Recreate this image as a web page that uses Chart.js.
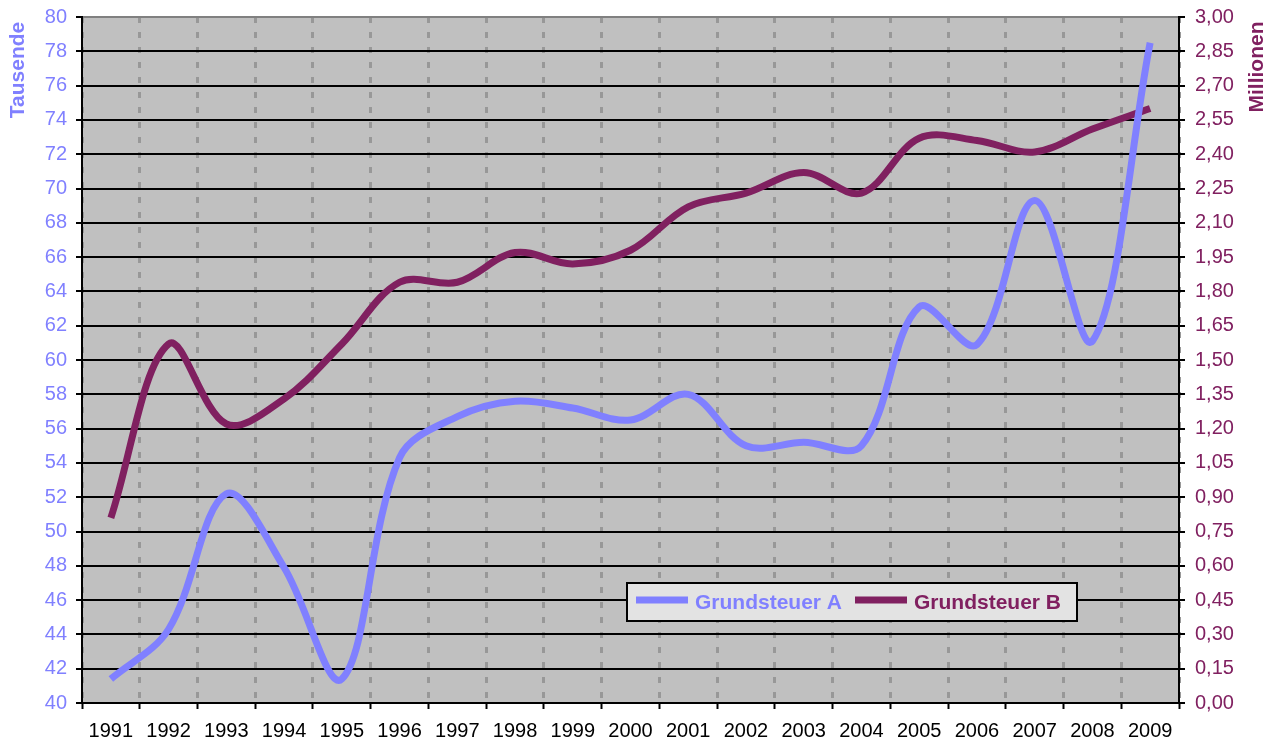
<!DOCTYPE html>
<html>
<head>
<meta charset="utf-8">
<script src="https://cdn.jsdelivr.net/npm/chart.js@4"></script>
<style>
    body { margin: 0; background: #fff; }
    #wrap { position: relative; width: 1279px; height: 747px; }
</style>
</head>
<body>
<div id="wrap"><canvas id="chart"></canvas></div>
<script>
// Data
const years = ['1991', '1992', '1993', '1994', '1995', '1996', '1997', '1998', '1999', '2000',
    '2001', '2002', '2003', '2004', '2005', '2006', '2007', '2008', '2009'];
// Grundsteuer A, in Tausend (left axis)
const grundsteuerA = [41.4, 44.3, 52.2, 47.9, 41.4, 54.3, 56.7, 57.6, 57.2, 56.5,
    58.0, 55.0, 55.2, 55.0, 63.1, 60.9, 69.3, 61.1, 78.5];
// Grundsteuer B, in Millionen (right axis)
const grundsteuerB = [0.81, 1.57, 1.22, 1.33, 1.57, 1.84, 1.84, 1.97, 1.92, 1.98,
    2.17, 2.23, 2.32, 2.23, 2.47, 2.46, 2.41, 2.51, 2.60];
const seriesNames = ['Grundsteuer A', 'Grundsteuer B'];
const leftTitle = 'Tausende';
const rightTitle = 'Millionen';

const colorA = '#8080ff';
const colorB = '#802060';
const fontFamily = '"Liberation Sans", Arial, sans-serif';

// Gray plot area
const plotBackground = {
    id: 'plotBackground',
    beforeDraw(chart) {
        const { ctx, chartArea: a } = chart;
        ctx.save();
        ctx.fillStyle = '#c0c0c0';
        ctx.fillRect(a.left, a.top, a.right - a.left, a.bottom - a.top);
        ctx.restore();
    }
};

// Axis titles sit at the top of each axis, both read bottom-to-top
const axisTitles = {
    id: 'axisTitles',
    afterDraw(chart) {
        const ctx = chart.ctx;
        ctx.save();
        ctx.font = 'bold 21px ' + fontFamily;
        ctx.textAlign = 'center';
        ctx.textBaseline = 'middle';
        [[leftTitle, 18.5, 70, colorA], [rightTitle, 1257, 67, colorB]].forEach(([text, x, y, color]) => {
            ctx.save();
            ctx.translate(x, y);
            ctx.rotate(-Math.PI / 2);
            ctx.fillStyle = color;
            ctx.fillText(text, 0, 0);
            ctx.restore();
        });
        ctx.restore();
    }
};

// Legend box inside the plot, like the Excel original
const boxLegend = {
    id: 'boxLegend',
    afterDraw(chart) {
        const ctx = chart.ctx;
        const box = { x: 627, y: 583, w: 450, h: 38 };
        ctx.save();
        ctx.fillStyle = '#e3e3e3';
        ctx.fillRect(box.x, box.y, box.w, box.h);
        ctx.strokeStyle = '#000';
        ctx.lineWidth = 2;
        ctx.strokeRect(box.x, box.y, box.w, box.h);
        ctx.font = 'bold 21px ' + fontFamily;
        ctx.textBaseline = 'middle';
        const midY = box.y + box.h / 2;
        const entries = [[636, 695], [855, 914]];
        chart.data.datasets.forEach((ds, i) => {
            const [lineX, textX] = entries[i];
            ctx.strokeStyle = ds.borderColor;
            ctx.lineWidth = 7;
            ctx.beginPath();
            ctx.moveTo(lineX, midY - 2);
            ctx.lineTo(lineX + 52, midY - 2);
            ctx.stroke();
            ctx.fillStyle = ds.borderColor;
            ctx.fillText(ds.label, textX, midY + 1);
        });
        ctx.restore();
    }
};

// fixed axis sizes so the plot area lands where Excel put it
const fixY = width => scale => {
    scale.width = width;
    scale.paddingTop = 0;
    scale.paddingBottom = 0;
};

new Chart(document.getElementById('chart'), {
    type: 'line',
    data: {
        labels: years,
        datasets: [{
            label: seriesNames[0],
            data: grundsteuerA,
            yAxisID: 'y',
            borderColor: colorA,
            borderWidth: 7,
            pointRadius: 0,
            tension: 0.35
        }, {
            label: seriesNames[1],
            data: grundsteuerB,
            yAxisID: 'y1',
            borderColor: colorB,
            borderWidth: 7,
            pointRadius: 0,
            tension: 0.35
        }]
    },
    options: {
        responsive: true,
        maintainAspectRatio: false,
        animation: false,
        layout: { padding: { top: 17, left: 0, right: 0, bottom: 0 } },
        plugins: {
            legend: { display: false },
            tooltip: { enabled: false }
        },
        scales: {
            x: {
                offset: true,
                afterFit: scale => { scale.height = 44; },
                grid: {
                    offset: true,
                    color: '#989898',
                    lineWidth: 3,
                    tickColor: '#000',
                    tickWidth: 2,
                    tickLength: 6
                },
                border: { color: '#000', width: 2, dash: [6, 9] },
                ticks: {
                    color: '#000',
                    padding: 10,
                    maxRotation: 0,
                    autoSkip: false,
                    font: { family: fontFamily, size: 20 }
                }
            },
            y: {
                position: 'left',
                min: 40,
                max: 80,
                afterFit: fixY(82),
                grid: {
                    color: ctx => (ctx.tick && ctx.tick.value === 80) ? '#808080' : '#000',
                    lineWidth: 2,
                    tickColor: '#000',
                    tickWidth: 2,
                    tickLength: 6
                },
                border: { color: '#000', width: 2 },
                ticks: {
                    stepSize: 2,
                    color: colorA,
                    padding: 9,
                    font: { family: fontFamily, size: 20 }
                }
            },
            y1: {
                position: 'right',
                min: 0,
                max: 3,
                afterFit: fixY(100),
                grid: {
                    drawOnChartArea: false,
                    color: '#000',
                    lineWidth: 2,
                    tickLength: 6
                },
                border: { color: '#000', width: 2 },
                ticks: {
                    stepSize: 0.15,
                    color: colorB,
                    padding: 10,
                    font: { family: fontFamily, size: 20 },
                    callback: v => v.toFixed(2).replace('.', ',')
                }
            }
        }
    },
    plugins: [plotBackground, axisTitles, boxLegend]
});
</script>
</body>
</html>
